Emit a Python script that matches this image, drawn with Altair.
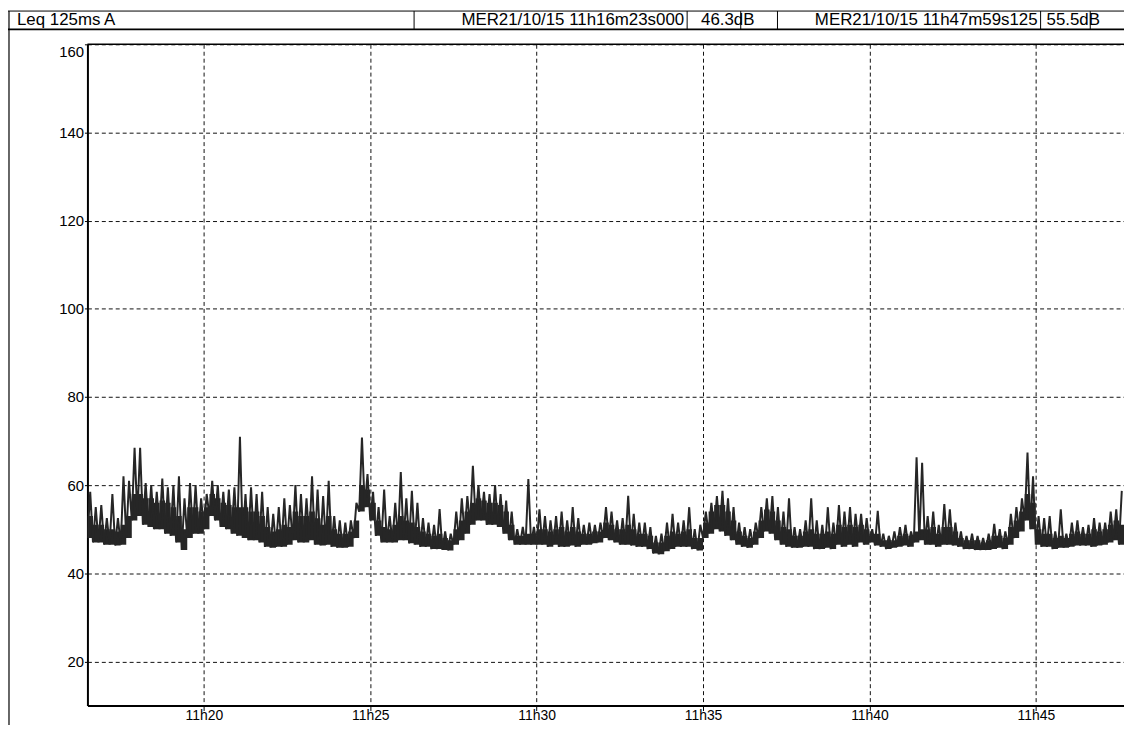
import altair as alt
import pandas as pd

# ---------------- data ----------------
start_s = 990   # 11:16:30, seconds after 11:00:00
bin_s = 10      # each bin: a low, a typical-upper and a peak reading

level_low = [
    48, 47, 47, 46.5, 46.5, 46.3, 46.5, 48, 52, 53,
    51, 50.5, 50, 50, 49, 48.5, 47, 45.3, 48, 49,
    49, 50, 53, 52, 50.5, 50, 49, 48.5, 48, 47.5,
    47.5, 47, 46, 45.8, 46, 46, 46.5, 47.5, 47, 47,
    47.5, 46.5, 46.3, 46.5, 46, 45.8, 45.8, 46, 48, 54,
    55, 52, 48.5, 47, 47, 47, 47.5, 47.5, 46.8, 46.5,
    46, 46, 45.5, 45.5, 45.3, 45.2, 46.5, 47.5, 49, 51,
    52, 52, 51, 51, 50.5, 49, 47.5, 46.5, 46.5, 46.5,
    46.5, 46.5, 46.5, 46, 46.5, 46, 46, 46.3, 46, 46.5,
    46.5, 46.8, 47, 48, 47.5, 47, 46.5, 46.5, 46.3, 46,
    46, 45.5, 44.5, 44.3, 45, 45.5, 46, 46, 46, 45.5,
    45.2, 48, 49, 50, 49.5, 48.5, 47.5, 46.5, 46, 45.8,
    46.5, 48, 49.5, 49, 47.5, 46.5, 46, 45.8, 45.8, 46,
    46, 45.5, 45.5, 45.8, 45.5, 46.5, 46, 46.5, 46, 47,
    46.5, 47, 46.3, 46, 45.5, 45.8, 46, 46.3, 46, 47,
    47.5, 46.5, 46.5, 46, 46.5, 46.5, 46.3, 46, 45.5, 45.5,
    45.3, 45.3, 45.3, 45.5, 45.8, 45.5, 46.5, 48, 49.5, 52,
    50, 46.5, 46, 46, 45.5, 45.8, 45.8, 46, 46.3, 46.3,
    46.3, 46, 46.3, 46.5, 47, 47.5, 46.5,
]
level_body = [
    53, 51, 51, 50, 50, 49.5, 51, 53, 58, 58,
    57, 57, 56, 56.5, 56, 55, 53, 50, 55, 55,
    54, 55, 58, 57, 56, 55.5, 55, 55, 55, 54,
    54, 53, 50.5, 49.5, 50, 51, 50.5, 54, 53, 53,
    54, 52.5, 51, 53, 50, 49, 49, 49.5, 52, 60,
    59, 56, 52, 50.5, 50, 51, 53, 52, 51.5, 50.5,
    49.5, 49, 48.5, 49, 48, 47.5, 50, 52, 54, 56,
    57, 56.5, 56, 56, 55.5, 54, 51, 48.5, 48.5, 49,
    49, 50, 50, 49.5, 50, 50.5, 49.5, 50.5, 49.5, 49,
    49, 49.5, 49.5, 51.5, 51, 50, 50, 51, 50, 49,
    49, 48.5, 47, 47, 48.5, 49.5, 49, 49.5, 50, 48,
    48, 51.5, 54, 55.5, 55.5, 54, 52, 49.5, 48.5, 48,
    49.5, 52, 54.5, 54, 52, 50.5, 50, 48.5, 48.5, 49.5,
    50, 49, 49, 49.5, 49, 51, 50.5, 51, 50.5, 51,
    50, 49, 49, 47.5, 47.5, 47.5, 48.5, 49, 48.5, 49.5,
    50, 50, 50.5, 49, 50.5, 50.5, 49.5, 48, 47.5, 47.5,
    47.5, 47, 47.5, 48.5, 48.5, 48, 50.5, 52, 54, 58,
    56, 50, 49, 49, 48, 48.5, 48, 49, 49.5, 49,
    49, 50, 49.5, 50, 51, 52, 51,
]
level_high = [
    58.5, 55, 55.5, 52.5, 58, 52.5, 62, 61, 68.5, 68.5,
    60.5, 60, 58.5, 61.5, 59.5, 60, 62, 57, 60.5, 60,
    57, 58, 61, 60, 58.5, 59, 59.5, 71, 58, 59.5,
    58, 58.5, 55, 53.5, 55, 57, 55.5, 60, 58, 57,
    62, 59, 57.5, 61, 53, 52, 51.5, 52, 56, 70.8,
    62.5, 58.5, 55, 59, 53, 56, 63, 57, 58.7, 56,
    52.5, 51.5, 51, 54.6, 49.5, 49, 54, 57, 57.5, 64.4,
    60, 58.5, 58, 60, 58, 56.5, 54, 50, 50.5, 61.4,
    50.5, 54.5, 53, 52, 53, 54, 52, 55, 52.5, 51,
    51.5, 51, 51.5, 55, 54, 52, 52.5, 57.6, 53.5, 51.5,
    51.5, 50.5, 48.5, 49, 51.5, 53.5, 51.5, 52, 55, 50,
    51, 54, 56, 57.5, 58.7, 57, 55, 51.5, 50.5, 50,
    51.5, 55, 57, 57.5, 55, 54, 57, 50.5, 50, 52,
    57, 52, 51, 55, 51.5, 55.5, 54, 55, 53.5, 53.5,
    52.5, 50, 54.2, 49, 48.5, 49.5, 50.5, 51, 49.5, 66.3,
    65.1, 53, 54, 51, 55.7, 54.5, 51.5, 49.5, 48.5, 49,
    48.5, 48, 49, 51.2, 50, 49.5, 53.5, 55, 57, 67.4,
    62, 53, 52.5, 53, 49.5, 54.5, 49, 51.5, 52, 50.5,
    51, 52.5, 51.5, 51.5, 54, 54.5, 58.7,
]

y_ticks = [20, 40, 60, 80, 100, 120, 140, 160]
x_tick_seconds = [1200, 1500, 1800, 2100, 2400, 2700]
x_tick_labels = ["11h20", "11h25", "11h30", "11h35", "11h40", "11h45"]

header_title = "Leq 125ms  A"
cursor_times = ["MER21/10/15 11h16m23s000", "MER21/10/15 11h47m59s125"]
cursor_levels = ["46.3dB", "55.5dB"]

# ---------------- build tables ----------------
rows = []
for i, (lo, hi) in enumerate(zip(level_low, level_high)):
    t = start_s + i * bin_s
    rows.append({"t": t, "db": lo})
    rows.append({"t": t + bin_s / 2, "db": hi})
df_line = pd.DataFrame(rows)
df_band = pd.DataFrame({
    "t0": [start_s + i * bin_s for i in range(len(level_low))],
    "t1": [start_s + (i + 1) * bin_s for i in range(len(level_low))],
    "lo": level_low,
    "body": level_body,
})

W, H = 1044, 666
PAD = {"left": 80, "top": 34, "right": 0, "bottom": 17}
AXFONT = "Liberation Sans Narrow, Liberation Sans, Arial"
HDFONT = "Liberation Sans, Arial"
INK = "#262626"

x_scale = alt.Scale(domain=[990, 2859], nice=False, zero=False)
y_scale = alt.Scale(domain=[10, 160], nice=False, zero=False)

label_expr = " : ".join(
    f"datum.value == {v} ? '{l}'" for v, l in zip(x_tick_seconds, x_tick_labels)
) + " : ''"

x_axis = alt.Axis(
    values=x_tick_seconds, labelExpr=label_expr, title=None,
    grid=True, gridDash=[4, 3], gridColor="#111", gridWidth=1, gridOpacity=1,
    domainColor="black", domainWidth=2, tickColor="black", tickSize=5, tickWidth=1,
    labelFont=AXFONT, labelFontSize=14, labelColor="black", labelPadding=-2,
)
y_axis = alt.Axis(
    values=y_ticks, title=None, labelFlush=True,
    grid=True, gridDash=[4, 3], gridColor="#111", gridWidth=1, gridOpacity=1,
    domainColor="black", domainWidth=2, tickColor="black", tickSize=3, tickWidth=1,
    labelFont=AXFONT, labelFontSize=15, labelColor="black", labelPadding=1,
)

band = alt.Chart(df_band).mark_rect(color=INK, opacity=1, clip=True).encode(
    x=alt.X("t0:Q", scale=x_scale, axis=x_axis),
    x2=alt.X2("t1"),
    y=alt.Y("lo:Q", scale=y_scale, axis=y_axis),
    y2=alt.Y2("body"),
)

signal = alt.Chart(df_line).mark_line(color=INK, strokeWidth=2.0, clip=True,
                                      strokeJoin="miter", strokeMiterLimit=3).encode(
    x=alt.X("t:Q", scale=x_scale),
    y=alt.Y("db:Q", scale=y_scale),
    order="t:Q",
)

one = pd.DataFrame({"k": [0]})


def hline(x1, x2, y, w=1.0):
    return alt.Chart(one).mark_rule(color="black", strokeWidth=w, clip=False).encode(
        x=alt.value(x1), x2=alt.value(x2), y=alt.value(y))


def vline(x, y1, y2, w=1.0):
    return alt.Chart(one).mark_rule(color="black", strokeWidth=w, clip=False).encode(
        x=alt.value(x), y=alt.value(y1), y2=alt.value(y2))


def label(txt, x, y, size, align="left"):
    return alt.Chart(one).mark_text(
        text=txt, align=align, baseline="middle", font=HDFONT, fontSize=size,
        color="black", clip=False).encode(x=alt.value(x), y=alt.value(y))


HT, HB = -33.5, -15   # header box top / bottom (relative to plot origin)
HY = -24.5            # header text centre

layers = [
    band,
    signal,
    hline(0, W, 0, 1.5),                 # top border of plot
    hline(-80, W, HT, 1.0),              # header top
    hline(-80, W, HB, 1.8),              # header bottom
    vline(-79, HT, H + 20, 1.2),         # outer frame left
    vline(329, HT, HB), vline(604, HT, HB), vline(658, HT, HB),
    vline(695, HT, HB), vline(960, HT, HB), vline(1010, HT, HB),
    label(header_title, -71, HY, 17),
    label(cursor_times[0], 601, HY, 17, "right"),
    label(cursor_levels[0], 618, HY, 17),
    label(cursor_times[1], 957, HY, 17, "right"),
    label(cursor_levels[1], 966, HY, 17),
]

chart = alt.layer(*layers).properties(
    width=W, height=H, padding=PAD,
    autosize=alt.AutoSizeParams(type="none"),
    background="white",
).configure_view(stroke=None)

chart.save("out.html", embed_options={"renderer": "svg", "actions": False})
